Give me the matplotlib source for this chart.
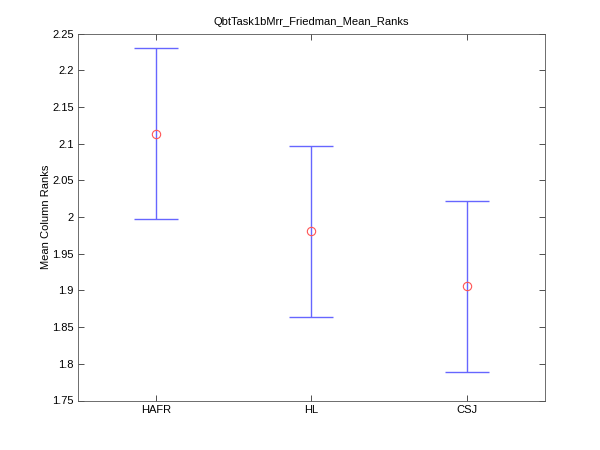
import numpy as np
import matplotlib.pyplot as plt

plt.rcParams['font.family'] = ['Liberation Sans', 'DejaVu Sans']

groups = ['HAFR', 'HL', 'CSJ']
mean_ranks = [2.1135, 1.9810, 1.9060]
half_widths = [0.1165, 0.1165, 0.1165]

fig = plt.figure(figsize=(6, 4.5), dpi=100)
ax = fig.add_axes([0.13, 0.11, 0.778, 0.815])

x = np.arange(1, len(groups) + 1)
ax.errorbar(x, mean_ranks, yerr=half_widths, fmt='none', ecolor='#6666ff',
            elinewidth=1.0, capsize=15.5, capthick=1.0)
ax.plot(x, mean_ranks, 'o', mfc='none', mec='#ff5555', ms=6, mew=0.8)

ax.set_xlim(0.5, 3.5)
ax.set_ylim(1.75, 2.25)
ax.set_xticks(x)
ax.set_xticklabels(groups)
yt = np.arange(1.75, 2.2501, 0.05)
ax.set_yticks(yt)
ax.set_yticklabels(['%g' % round(v, 2) for v in yt])
ax.tick_params(direction='in', length=4, width=0.6, labelsize=8,
               top=True, right=True, colors='#333333', labelcolor='black')
ax.tick_params(axis='y', pad=3)
for s in ax.spines.values():
    s.set_linewidth(0.6)
    s.set_color('#555555')

ax.set_ylabel('Mean Column Ranks', fontsize=8, labelpad=1)
ax.set_title('QbtTask1bMrr_Friedman_Mean_Ranks', fontsize=8)

fig.savefig('out.png', dpi=100)
